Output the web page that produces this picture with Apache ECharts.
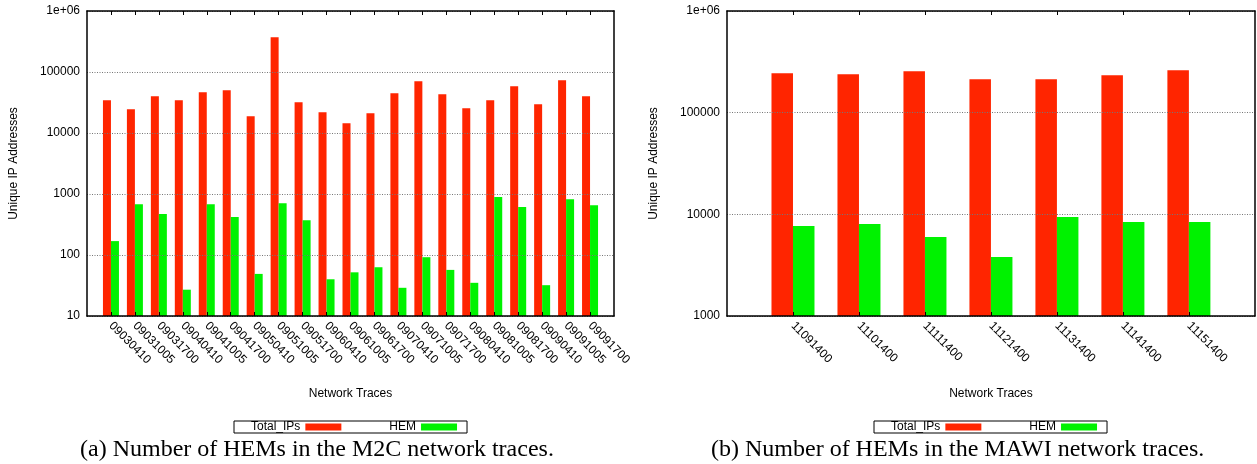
<!DOCTYPE html>
<html>
<head>
<meta charset="utf-8">
<script src="https://cdn.jsdelivr.net/npm/echarts@6/dist/echarts.min.js"></script>
<style>
html,body{margin:0;padding:0;background:#fff;}
#chart{width:1257px;height:464px;}
</style>
</head>
<body>
<div id="chart"></div>
<script>
// ---- data ----
const catsM2C = ['09030410','09031005','09031700','09040410','09041005','09041700','09050410','09051005','09051700','09060410','09061005','09061700','09070410','09071005','09071700','09080410','09081005','09081700','09090410','09091005','09091700'];
const totalM2C = [34400,24500,40000,34400,46600,50200,18800,370000,31900,21900,14500,21100,44900,70500,43200,25500,34400,58400,29600,73300,40000];
const hemM2C = [169,682,468,27,682,418,49,708,373,40,52,63,29,92,57,35,889,610,32,824,657];

const catsMAWI = ['11091400','11101400','11111400','11121400','11131400','11141400','11151400'];
const totalMAWI = [244000,239000,255000,213000,213000,233000,261000];
const hemMAWI = [7660,8020,5970,3800,9400,8390,8390];

const seriesNames = ['Total_IPs','HEM'];
const yTicksM2C = [10,100,1000,10000,100000,1000000];
const yTicksMAWI = [1000,10000,100000,1000000];
const captions = ['(a) Number of HEMs in the M2C network traces.','(b) Number of HEMs in the MAWI network traces.'];
const axisNames = {x:'Network Traces', y:'Unique IP Addresses'};

// ---- styles ----
const RED = '#ff2500', GREEN = '#00f200';
const SANS = 'Liberation Sans', SERIF = 'Liberation Serif';

function pad(a, v){ return [v].concat(a, [v]); }
function tickFn(n){ return function(i){ return i > 0 && i < n - 1; }; }
function yFmt(v){ const e = Math.round(Math.log10(v)); return e >= 6 ? '1e+06' : String(Math.round(Math.pow(10, e))); }

function xAxes(g, cats){
  const d = pad(cats, '');
  const n = d.length;
  return [
    {gridIndex:g, type:'category', data:d, boundaryGap:false, position:'bottom', z:10,
     axisLine:{lineStyle:{color:'#000', width:1.5}},
     axisTick:{inside:true, length:4, interval:tickFn(n), lineStyle:{color:'#000', width:1}},
     axisLabel:{interval:0, rotate:-45, margin:8, fontSize:12, color:'#000', fontFamily:SANS},
     splitLine:{show:false},
     name:axisNames.x, nameLocation:'middle', nameGap:72,
     nameTextStyle:{fontSize:12, color:'#000', fontFamily:SANS}},
    {gridIndex:g, type:'category', data:d, boundaryGap:false, position:'top', z:10,
     axisLine:{lineStyle:{color:'#000', width:1.5}},
     axisTick:{inside:true, length:4, interval:tickFn(n), lineStyle:{color:'#000', width:1}},
     axisLabel:{show:false}, splitLine:{show:false}}
  ];
}
function yAxes(g, ticks){
  const mn = ticks[0], mx = ticks[ticks.length-1];
  return [
    {gridIndex:g, type:'log', logBase:10, min:mn, max:mx, position:'left', z:10,
     axisLine:{show:true, lineStyle:{color:'#000', width:1.5}},
     axisTick:{show:false},
     axisLabel:{formatter:yFmt, fontSize:12, color:'#000', fontFamily:SANS, margin:7},
     splitLine:{show:true, lineStyle:{color:'#777', type:[1,1.5], width:1}},
     minorTick:{show:false},
     name:axisNames.y, nameLocation:'middle', nameGap:67, nameRotate:90,
     nameTextStyle:{fontSize:12, color:'#000', fontFamily:SANS}},
    {gridIndex:g, type:'log', logBase:10, min:mn, max:mx, position:'right', z:10,
     axisLine:{show:true, lineStyle:{color:'#000', width:1.5}},
     axisTick:{show:false}, axisLabel:{show:false}, splitLine:{show:false}}
  ];
}
function barSeries(xi, yi, total, hem, w){
  return [
    {name:seriesNames[0], type:'bar', xAxisIndex:xi, yAxisIndex:yi, data:pad(total, null),
     barWidth:w, barGap:'0%', itemStyle:{color:RED}},
    {name:seriesNames[1], type:'bar', xAxisIndex:xi, yAxisIndex:yi, data:pad(hem, null),
     barWidth:w, barGap:'0%', itemStyle:{color:GREEN}}
  ];
}
function legendAt(left){
  return {left:left, top:421, orient:'horizontal', align:'right', icon:'rect',
    itemWidth:36, itemHeight:7, itemGap:48, selectedMode:false,
    borderColor:'#000', borderWidth:1, padding:[0,10,0,17],
    textStyle:{fontSize:12, color:'#000', fontFamily:SANS, lineHeight:12},
    data:seriesNames};
}
function captionAt(text, left){
  return {text:text, left:left, top:438, padding:0,
    textStyle:{fontFamily:SERIF, fontSize:24, fontWeight:'normal', color:'#000'}};
}

const chart = echarts.init(document.getElementById('chart'), null, {renderer:'canvas'});
chart.setOption({
  animation:false,
  backgroundColor:'#fff',
  title:[captionAt(captions[0], 80), captionAt(captions[1], 711)],
  legend:[legendAt(234), legendAt(874)],
  grid:[
    {left:87, top:11, width:527, height:305, containLabel:false},
    {left:727, top:11, width:528, height:305, containLabel:false}
  ],
  xAxis:[].concat(xAxes(0, catsM2C), xAxes(1, catsMAWI)),
  yAxis:[].concat(yAxes(0, yTicksM2C), yAxes(1, yTicksMAWI)),
  series:[].concat(barSeries(0, 0, totalM2C, hemM2C, 8), barSeries(2, 2, totalMAWI, hemMAWI, 21.5))
});
</script>
</body>
</html>
